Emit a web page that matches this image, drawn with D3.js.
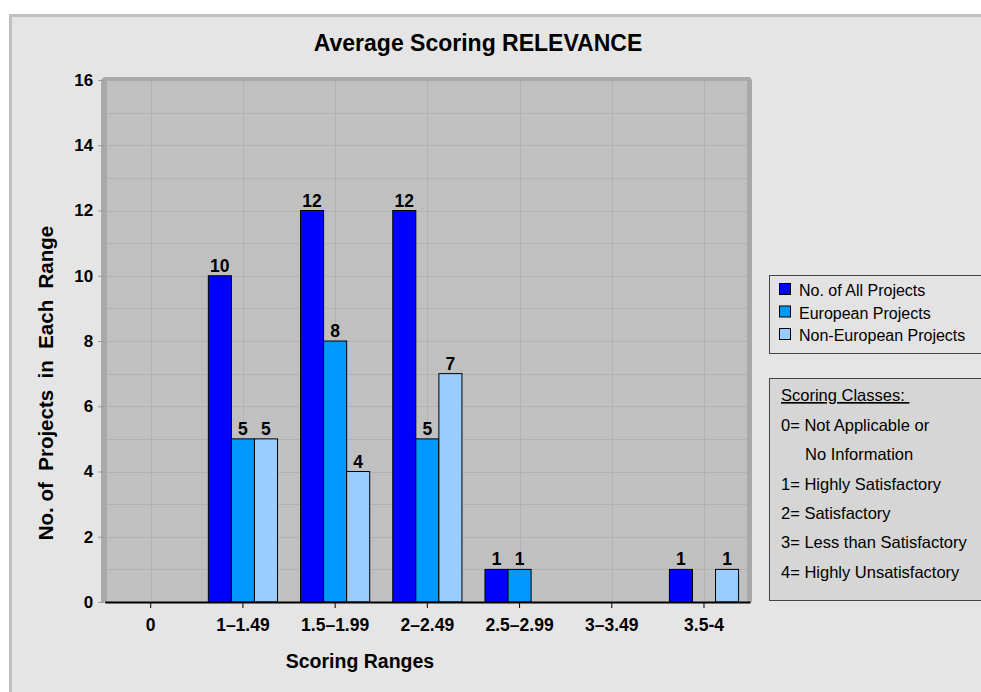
<!DOCTYPE html>
<html>
<head>
<meta charset="utf-8">
<script src="https://cdn.jsdelivr.net/npm/d3@7"></script>
<style>
  html, body { margin: 0; padding: 0; background: #ffffff; }
  svg { display: block; font-family: "Liberation Sans", Arial, sans-serif; }
</style>
</head>
<body>
<svg id="chart" width="981" height="692"></svg>
<script>
// Scoring ranges on the category axis
const categories = ["0", "1\u20131.49", "1.5\u20131.99", "2\u20132.49", "2.5\u20132.99", "3\u20133.49", "3.5-4"];
// Project counts per range
const allProjects      = [0, 10, 12, 12, 1, 0, 1];
const europeanProjects = [0, 5, 8, 5, 1, 0, 0];
const nonEuropean      = [0, 5, 4, 7, 0, 0, 1];
const seriesNames = ["No. of All Projects", "European Projects", "Non-European Projects"];
const seriesColors = ["#0000ff", "#0099ff", "#99ccff"];
const yTicks = [0, 2, 4, 6, 8, 10, 12, 14, 16];
const classLines = [
  { text: "0= Not Applicable or", indent: false },
  { text: "No Information", indent: true },
  { text: "1= Highly Satisfactory", indent: false },
  { text: "2= Satisfactory", indent: false },
  { text: "3= Less than Satisfactory", indent: false },
  { text: "4= Highly Unsatisfactory", indent: false }
];

const seriesValues = [allProjects, europeanProjects, nonEuropean];
const svg = d3.select("#chart");
const FONT = "Liberation Sans, Arial, sans-serif";

// outer chart frame
svg.append("rect")
  .attr("x", 10.5).attr("y", 15.5).attr("width", 990).attr("height", 700)
  .attr("fill", "#e5e5e5").attr("stroke", "#c0c0c0").attr("stroke-width", 3);

// plot geometry
const plot = { left: 104.6, right: 750.1, top: 80, bottom: 602 };

const y = d3.scaleLinear().domain([0, 16]).range([plot.bottom, plot.top]);
const x0 = d3.scaleBand().domain(categories).range([plot.left, plot.right])
  .paddingInner(0.25).paddingOuter(0.125);
const x1 = d3.scaleBand().domain(d3.range(seriesNames.length)).range([0, x0.bandwidth()]);

// wall with depth shading
svg.append("path")
  .attr("d", `M101,80 L104,77 L750,77 L752,80 L752,${plot.bottom} L101,${plot.bottom} Z`)
  .attr("fill", "#a9a9a9");
svg.append("rect")
  .attr("x", 107).attr("y", 81)
  .attr("width", 747 - 107).attr("height", plot.bottom - 81)
  .attr("fill", "#c0c0c0");

// gridlines: every unit horizontally, category centres vertically
const grid = svg.append("g").attr("stroke", "#b2b2b2").attr("stroke-width", 1);
grid.selectAll("line.h").data(d3.range(1, 16)).join("line")
  .attr("x1", 107).attr("x2", 747)
  .attr("y1", d => Math.round(y(d)) + 0.5).attr("y2", d => Math.round(y(d)) + 0.5);
grid.selectAll("line.v").data(categories).join("line")
  .attr("x1", d => Math.round(x0(d) + x0.bandwidth() / 2) + 0.5)
  .attr("x2", d => Math.round(x0(d) + x0.bandwidth() / 2) + 0.5)
  .attr("y1", 81).attr("y2", plot.bottom);

// bars
const groups = svg.append("g").selectAll("g").data(categories).join("g")
  .attr("transform", d => `translate(${x0(d)},0)`);
groups.selectAll("rect")
  .data((c, i) => seriesValues.map((vals, s) => ({ s, v: vals[i] })).filter(d => d.v > 0))
  .join("rect")
  .attr("x", d => x1(d.s))
  .attr("y", d => y(d.v))
  .attr("width", x1.bandwidth())
  .attr("height", d => y(0) - y(d.v))
  .attr("fill", d => seriesColors[d.s])
  .attr("stroke", "#000").attr("stroke-width", 1);

// value labels
groups.selectAll("text")
  .data((c, i) => seriesValues.map((vals, s) => ({ s, v: vals[i] })).filter(d => d.v > 0))
  .join("text")
  .attr("x", d => x1(d.s) + x1.bandwidth() / 2)
  .attr("y", d => y(d.v) - 4)
  .attr("text-anchor", "middle")
  .attr("font-size", 17.5).attr("font-weight", "bold").attr("fill", "#000")
  .text(d => d.v);

// y axis
const yAxis = svg.append("g").attr("transform", `translate(${plot.left - 0.5},0)`)
  .call(d3.axisLeft(y).tickValues(yTicks).tickSize(6).tickPadding(5));
yAxis.select(".domain").remove();
yAxis.selectAll(".tick line").attr("stroke", "#999");
yAxis.selectAll(".tick text")
  .attr("font-size", 17).attr("font-weight", "bold").attr("fill", "#000")
  .attr("font-family", FONT);

// x axis
const xAxis = svg.append("g").attr("transform", `translate(0,${plot.bottom})`)
  .call(d3.axisBottom(x0).tickSize(6).tickPadding(11).tickSizeOuter(0));
xAxis.select(".domain").attr("stroke", "#000").attr("stroke-width", 2);
xAxis.selectAll(".tick line").attr("stroke", "#000");
xAxis.selectAll(".tick text")
  .attr("font-size", 17.5).attr("font-weight", "bold").attr("fill", "#000")
  .attr("font-family", FONT);

// title and axis titles
svg.append("text")
  .attr("x", 478).attr("y", 51).attr("text-anchor", "middle")
  .attr("font-size", 23).attr("font-weight", "bold")
  .text("Average Scoring RELEVANCE");

svg.append("text")
  .attr("x", 360).attr("y", 668).attr("text-anchor", "middle")
  .attr("font-size", 19.5).attr("font-weight", "bold")
  .text("Scoring Ranges");

svg.append("text")
  .attr("transform", "translate(53,383) rotate(-90)")
  .attr("text-anchor", "middle")
  .attr("font-size", 20.5).attr("font-weight", "bold")
  .style("white-space", "pre")
  .text("No. of  Projects  in  Each  Range");

// series legend
const leg = svg.append("g");
leg.append("rect")
  .attr("x", 769.5).attr("y", 275.5).attr("width", 230).attr("height", 78)
  .attr("fill", "#e3e3e3").attr("stroke", "#444");
const items = leg.selectAll("g.item").data(seriesNames).join("g")
  .attr("transform", (d, i) => `translate(0,${283 + i * 22.5})`);
items.append("rect")
  .attr("x", 779.5).attr("y", 0.5).attr("width", 11).attr("height", 11)
  .attr("fill", (d, i) => seriesColors[i]).attr("stroke", "#000");
items.append("text")
  .attr("x", 799).attr("y", 13)
  .attr("font-size", 16).attr("fill", "#000")
  .text(d => d);

// scoring classes box
const cls = svg.append("g");
cls.append("rect")
  .attr("x", 769.5).attr("y", 378.5).attr("width", 230).attr("height", 222)
  .attr("fill", "#d6d6d6").attr("stroke", "#444");
cls.append("text")
  .attr("x", 781).attr("y", 401)
  .attr("font-size", 16.5).attr("fill", "#000")
  .attr("text-decoration", "underline")
  .style("white-space", "pre")
  .text("Scoring Classes: ");
cls.selectAll("text.line").data(classLines).join("text")
  .attr("class", "line")
  .attr("x", d => d.indent ? 805 : 781)
  .attr("y", (d, i) => 431 + i * 29.3)
  .attr("font-size", 16.5).attr("fill", "#000")
  .text(d => d.text);
</script>
</body>
</html>
